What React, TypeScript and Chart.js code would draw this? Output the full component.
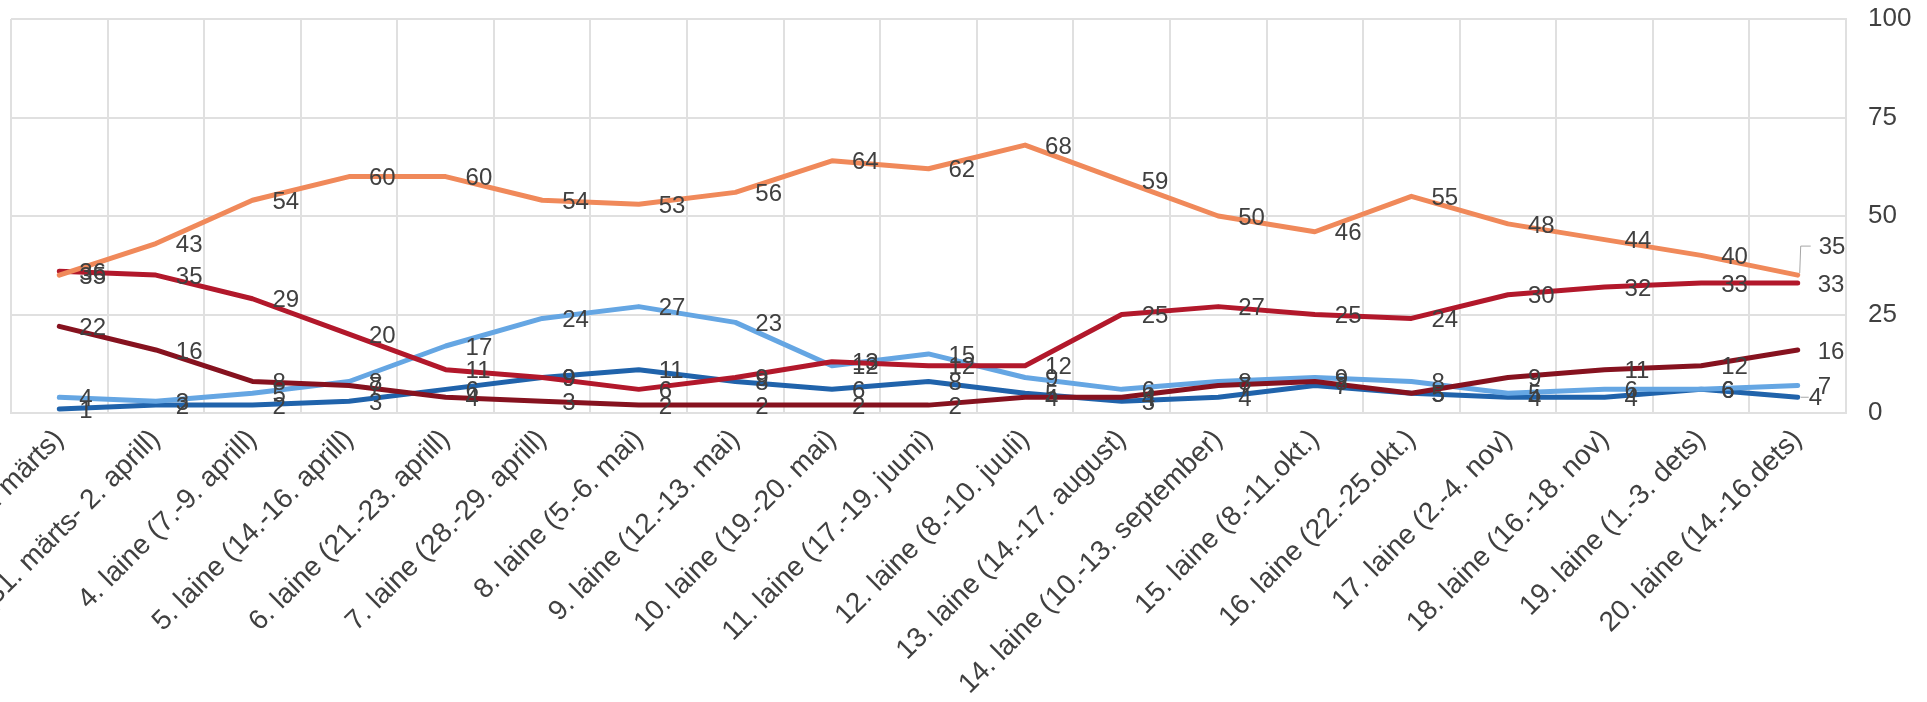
import React, { useEffect, useRef } from "react";
import { Chart, registerables } from "chart.js";

Chart.register(...registerables);

const categories: string[] = [
  "2. laine (24.-26. märts)",
  "3. laine (31. märts- 2. aprill)",
  "4. laine (7.-9. aprill)",
  "5. laine (14.-16. aprill)",
  "6. laine (21.-23. aprill)",
  "7. laine (28.-29. aprill)",
  "8. laine (5.-6. mai)",
  "9. laine (12.-13. mai)",
  "10. laine (19.-20. mai)",
  "11. laine (17.-19. juuni)",
  "12. laine (8.-10. juuli)",
  "13. laine (14.-17. august)",
  "14. laine (10.-13. september)",
  "15. laine (8.-11.okt.)",
  "16. laine (22.-25.okt.)",
  "17. laine (2.-4. nov)",
  "18. laine (16.-18. nov)",
  "19. laine (1.-3. dets)",
  "20. laine (14.-16.dets)",
];

const seriesOrange: number[] = [35, 43, 54, 60, 60, 54, 53, 56, 64, 62, 68, 59, 50, 46, 55, 48, 44, 40, 35];
const seriesRed: number[] = [36, 35, 29, 20, 11, 9, 6, 9, 13, 12, 12, 25, 27, 25, 24, 30, 32, 33, 33];
const seriesDarkRed: number[] = [22, 16, 8, 7, 4, 3, 2, 2, 2, 2, 4, 4, 7, 8, 5, 9, 11, 12, 16];
const seriesLightBlue: number[] = [4, 3, 5, 8, 17, 24, 27, 23, 12, 15, 9, 6, 8, 9, 8, 5, 6, 6, 7];
const seriesDarkBlue: number[] = [1, 2, 2, 3, 6, 9, 11, 8, 6, 8, 5, 3, 4, 7, 5, 4, 4, 6, 4];

const yMin = 0;
const yMax = 100;
const yStep = 25;

const FONT = "'Liberation Sans', Arial, Helvetica, sans-serif";
const TEXT = "#404040";
const GRID = "#e0e0e0";

// label placement styles (dataset index -> point index -> placement)
const leaderStyles: Record<string, { dx: number; dy: number; path: number[][] }> = {
  "0-18": { dx: 21, dy: -28, path: [[2, -2], [3, -29], [13, -29]] },
  "4-18": { dx: 11, dy: 1, path: [[3, 0], [11, 0]] },
};

const valueLabelPlugin = {
  id: "valueLabels",
  afterDatasetsDraw(chart: any) {
    const ctx = chart.ctx;
    ctx.save();
    ctx.font = `24px ${FONT}`;
    ctx.textBaseline = "middle";
    ctx.textAlign = "left";
    chart.data.datasets.forEach((ds: any, di: number) => {
      const meta = chart.getDatasetMeta(di);
      meta.data.forEach((pt: any, i: number) => {
        const v = ds.data[i];
        const key = `${di}-${i}`;
        const lead = leaderStyles[key];
        let x = pt.x + 20;
        let y = pt.y + 2;
        if (lead) {
          ctx.strokeStyle = "#a6a6a6";
          ctx.lineWidth = 1;
          ctx.beginPath();
          lead.path.forEach((p, k) => {
            if (k === 0) ctx.moveTo(pt.x + p[0], pt.y + p[1]);
            else ctx.lineTo(pt.x + p[0], pt.y + p[1]);
          });
          ctx.stroke();
          x = pt.x + lead.dx;
          y = pt.y + lead.dy;
        }
        ctx.fillStyle = TEXT;
        ctx.fillText(String(v), x, y);
      });
    });
    ctx.restore();
  },
};

export default function App() {
  const canvasRef = useRef<HTMLCanvasElement | null>(null);

  useEffect(() => {
    document.body.style.margin = "0";
    const canvas = canvasRef.current;
    if (!canvas) return;
    const mk = (label: string, data: number[], color: string) => ({
      label,
      data,
      borderColor: color,
      backgroundColor: color,
      borderWidth: 5,
      pointRadius: 0,
      tension: 0,
      borderCapStyle: "round" as const,
      borderJoinStyle: "round" as const,
      fill: false,
    });
    const chart = new Chart(canvas, {
      type: "line",
      data: {
        labels: categories,
        datasets: [
          mk("A", seriesOrange, "#f0895a"),
          mk("B", seriesRed, "#b2182b"),
          mk("C", seriesDarkRed, "#86121f"),
          mk("D", seriesLightBlue, "#65a6e3"),
          mk("E", seriesDarkBlue, "#2063ab"),
        ],
      },
      options: {
        responsive: false,
        animation: false,
        devicePixelRatio: 1,
        layout: { padding: { left: 11, top: 19, right: 0, bottom: 0 } },
        plugins: {
          legend: { display: false },
          tooltip: { enabled: false },
        },
        scales: {
          x: {
            type: "category",
            offset: true,
            grid: { offset: true, color: GRID, lineWidth: 2, drawTicks: false },
            border: { color: GRID, width: 2 },
            ticks: {
              autoSkip: false,
              maxRotation: 45,
              minRotation: 45,
              padding: 10,
              color: TEXT,
              font: { size: 28, family: FONT },
            },
            afterFit: (s: any) => {
              s.height = 289;
              s.paddingLeft = 0;
              s.paddingRight = 0;
            },
          },
          y: {
            position: "right",
            min: yMin,
            max: yMax,
            ticks: {
              stepSize: yStep,
              padding: 22,
              color: TEXT,
              font: { size: 26, family: FONT },
            },
            grid: { color: GRID, lineWidth: 2, drawTicks: false },
            border: { color: GRID, width: 2 },
            afterFit: (s: any) => {
              s.width = 81;
              s.paddingTop = 0;
              s.paddingBottom = 0;
            },
          },
        },
      },
      plugins: [valueLabelPlugin],
    });
    return () => chart.destroy();
  }, []);

  return (
    <div style={{ width: 1927, height: 702 }}>
      <canvas ref={canvasRef} width={1927} height={702} style={{ display: "block" }} />
    </div>
  );
}
